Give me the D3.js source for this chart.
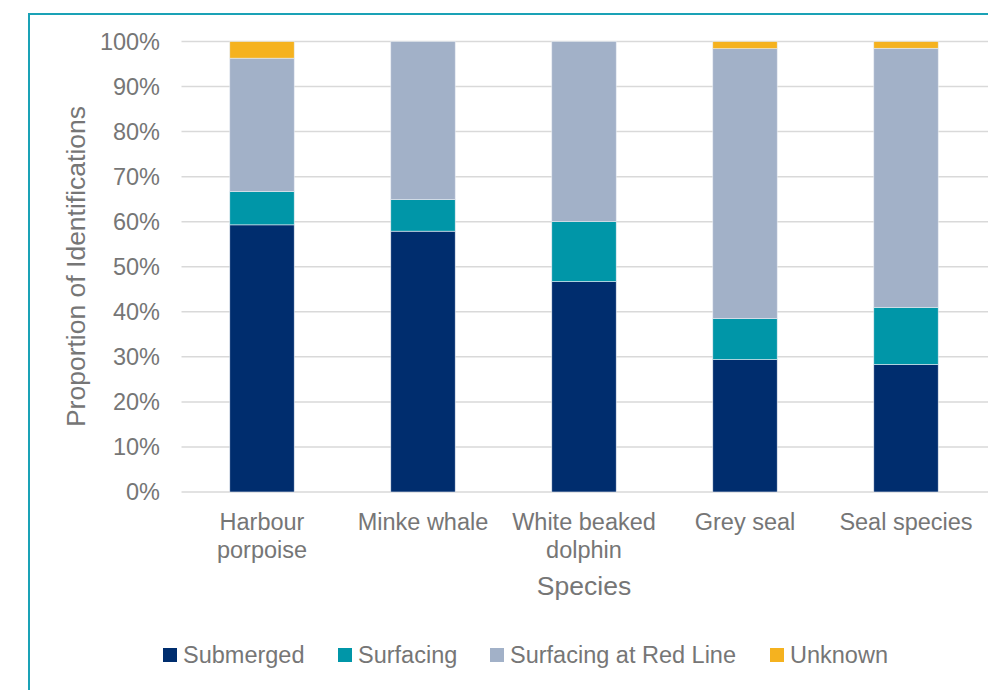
<!DOCTYPE html>
<html>
<head>
<meta charset="utf-8">
<script src="https://cdn.jsdelivr.net/npm/d3@7"></script>
<style>
  html, body { margin: 0; padding: 0; background: #fff; }
  svg { display: block; }
  text { font-family: "Liberation Sans", Arial, sans-serif; fill: #767676; }
</style>
</head>
<body>
<svg id="chart" width="988" height="690"></svg>
<script>
// Species observed and the share of identifications in each behaviour class (%)
const species = ["Harbour porpoise", "Minke whale", "White beaked dolphin", "Grey seal", "Seal species"];
const speciesLines = [["Harbour", "porpoise"], ["Minke whale"], ["White beaked", "dolphin"], ["Grey seal"], ["Seal species"]];
const seriesNames = ["Submerged", "Surfacing", "Surfacing at Red Line", "Unknown"];
const submerged        = [59.3, 57.9, 46.7, 29.4, 28.3];
const surfacing        = [7.4, 7.0, 13.3, 9.1, 12.7];
const surfacingRedLine = [29.6, 35.1, 40.0, 59.9, 57.5];
const unknown          = [3.7, 0.0, 0.0, 1.6, 1.5];
const yTicks = [0, 10, 20, 30, 40, 50, 60, 70, 80, 90, 100];
const colors = ["#002d6e", "#0096a8", "#a2b1c8", "#f5b21f"];

const svg = d3.select("#chart");
const W = 988, H = 690;
const plot = { left: 181.5, right: 986.5, top: 41.5, bottom: 492 };

// Outer frame: teal rule along the top and left edges
svg.append("path")
  .attr("d", `M29,${H} L29,14 L${W},14`)
  .attr("fill", "none")
  .attr("stroke", "#1aa2b6")
  .attr("stroke-width", 2);

const x = d3.scaleBand().domain(species).range([plot.left, plot.right]).paddingInner(0.6).paddingOuter(0.3);
const y = d3.scaleLinear().domain([0, 100]).range([plot.bottom, plot.top]);

// Horizontal gridlines
svg.append("g")
  .selectAll("line")
  .data(yTicks)
  .join("line")
  .attr("x1", plot.left).attr("x2", plot.right + 2)
  .attr("y1", d => y(d)).attr("y2", d => y(d))
  .attr("stroke", "#d9d9d9")
  .attr("stroke-width", 1.5);

// Y axis tick labels
const yAxis = d3.axisLeft(y).tickValues(yTicks).tickFormat(d => d + "%").tickSize(0).tickPadding(0);
const gy = svg.append("g").attr("transform", `translate(160,0)`).call(yAxis);
gy.select(".domain").remove();
gy.selectAll("text")
  .attr("font-size", 23.5)
  .attr("fill", "#767676")
  .attr("font-family", "'Liberation Sans', Arial, sans-serif");

// Stacked bars
const table = species.map((s, i) => ({
  species: s,
  [seriesNames[0]]: submerged[i],
  [seriesNames[1]]: surfacing[i],
  [seriesNames[2]]: surfacingRedLine[i],
  [seriesNames[3]]: unknown[i]
}));
const stacked = d3.stack().keys(seriesNames)(table);

svg.append("g")
  .selectAll("g")
  .data(stacked)
  .join("g")
  .attr("fill", (d, i) => colors[i])
  .selectAll("rect")
  .data(d => d.filter(p => p[1] - p[0] > 0))
  .join("rect")
  .attr("x", d => x(d.data.species))
  .attr("width", x.bandwidth())
  .attr("y", d => y(d[1]))
  .attr("height", d => y(d[0]) - y(d[1]))
  .attr("stroke", "#e6ebf2")
  .attr("stroke-width", 0.6);

// Category labels (wrapped to two lines where needed)
const xl = svg.append("g")
  .selectAll("text")
  .data(species)
  .join("text")
  .attr("text-anchor", "middle")
  .attr("font-size", 23.5)
  .attr("x", d => x(d) + x.bandwidth() / 2)
  .attr("y", 524)
  .attr("dominant-baseline", "middle");
xl.each(function(d, i) {
  d3.select(this).selectAll("tspan")
    .data(speciesLines[i])
    .join("tspan")
    .attr("x", x(d) + x.bandwidth() / 2)
    .attr("dy", (t, j) => j === 0 ? 0 : 27.5)
    .text(t => t);
});

// Axis titles
svg.append("text")
  .attr("text-anchor", "middle")
  .attr("font-size", 26.5)
  .attr("x", x(species[2]) + x.bandwidth() / 2)
  .attr("y", 588)
  .attr("dominant-baseline", "middle")
  .text("Species");

svg.append("text")
  .attr("text-anchor", "middle")
  .attr("font-size", 26.5)
  .attr("transform", "translate(85,266.5) rotate(-90)")
  .text("Proportion of Identifications");

// Legend
const legend = svg.append("g");
const legendX = [163, 338, 490, 770];
seriesNames.forEach((name, i) => {
  const g = legend.append("g").attr("transform", `translate(${legendX[i]},648)`);
  g.append("rect").attr("width", 14).attr("height", 14).attr("fill", colors[i]);
  g.append("text")
    .attr("x", 20)
    .attr("y", 9)
    .attr("dominant-baseline", "middle")
    .attr("font-size", 23.5)
    .text(name);
});
</script>
</body>
</html>
